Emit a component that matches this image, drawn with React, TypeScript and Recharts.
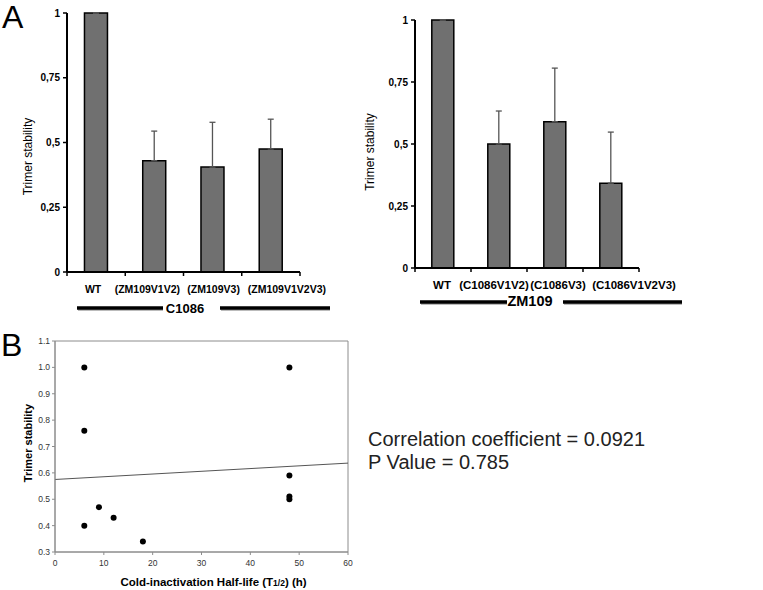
import React from 'react';
import {
  BarChart,
  Bar,
  XAxis,
  YAxis,
  ErrorBar,
  ScatterChart,
  Scatter,
  ReferenceArea,
  ReferenceLine,
} from 'recharts';

const FONT = '"Liberation Sans", Arial, Helvetica, sans-serif';

// Panel A, left: C1086 backbone carrying ZM109 loops
const c1086Names = ['WT', '(ZM109V1V2)', '(ZM109V3)', '(ZM109V1V2V3)'];
const c1086Values = [1, 0.43, 0.405, 0.475];
const c1086Errors = [0, 0.114, 0.173, 0.115];

// Panel A, right: ZM109 backbone carrying C1086 loops
const zm109Names = ['WT', '(C1086V1V2)', '(C1086V3)', '(C1086V1V2V3)'];
const zm109Values = [1, 0.5, 0.59, 0.342];
const zm109Errors = [0, 0.133, 0.216, 0.206];

const stabilityTicks = [0, 0.25, 0.5, 0.75, 1];

// Panel B: half-life vs trimer stability
const halfLife = [6, 6, 6, 9, 12, 18, 48, 48, 48, 48];
const trimerStability = [1.0, 0.76, 0.4, 0.47, 0.43, 0.34, 1.0, 0.59, 0.51, 0.5];
const trendX = [0, 60];
const trendY = [0.575, 0.637];
const halfLifeTicks = [0, 10, 20, 30, 40, 50, 60];
const stabilityTicksB = [0.3, 0.4, 0.5, 0.6, 0.7, 0.8, 0.9, 1.0, 1.1];

const toBars = (names: string[], values: number[], errors: number[]) =>
  names.map((name, i) => ({ name, value: values[i], err: [0, errors[i]] }));

const leftData = toBars(c1086Names, c1086Values, c1086Errors);
const rightData = toBars(zm109Names, zm109Values, zm109Errors);
const scatterData = halfLife.map((x, i) => ({ x, y: trimerStability[i] }));

const commaFormat = (v: number) => String(v).replace('.', ',');

// category label plus a tick mark at the band edge (Excel style)
const CategoryTick = (props: any) => {
  const { x, y, payload, index, band, fontSize, shifts } = props;
  const half = band / 2;
  const dx = shifts[index] ?? 0;
  return (
    <g>
      {index === 0 && (
        <line x1={x - half} x2={x - half} y1={y} y2={y + 4} stroke="#000" strokeWidth={1.5} />
      )}
      <line x1={x + half} x2={x + half} y1={y} y2={y + 4} stroke="#000" strokeWidth={1.5} />
      <text
        x={x + dx}
        y={y + 21}
        textAnchor="middle"
        fontFamily={FONT}
        fontWeight="bold"
        fontSize={fontSize}
        fill="#000"
      >
        {payload.value}
      </text>
    </g>
  );
};

const YTitle = (props: any) => {
  const { viewBox, dx, dy, text, fontSize, fontWeight } = props;
  if (!viewBox) return null;
  const cx = viewBox.x + dx;
  const cy = viewBox.y + viewBox.height / 2 + dy;
  return (
    <text
      x={cx}
      y={cy}
      transform={`rotate(-90 ${cx} ${cy})`}
      textAnchor="middle"
      dominantBaseline="central"
      fontFamily={FONT}
      fontSize={fontSize}
      fontWeight={fontWeight}
      fill="#000"
    >
      {text}
    </text>
  );
};

const HalfLifeTitle = (props: any) => {
  const { viewBox } = props;
  if (!viewBox) return null;
  return (
    <text
      x={viewBox.x + viewBox.width / 2 + 12}
      y={viewBox.y + 34}
      textAnchor="middle"
      fontFamily={FONT}
      fontSize={11.5}
      fontWeight="bold"
      fill="#000"
    >
      Cold-inactivation Half-life (T<tspan fontSize={8.5}>1/2</tspan>) (h)
    </text>
  );
};

const Dot = (props: any) => <circle cx={props.cx} cy={props.cy} r={3} fill="#000" />;

interface StabilityBarsProps {
  data: { name: string; value: number; err: number[] }[];
  width: number;
  margin: { top: number; right: number; bottom: number; left: number };
  band: number;
  labelSize: number;
  shifts: number[];
  titleDx: number;
  titleDy: number;
}

function StabilityBars({ data, width, margin, band, labelSize, shifts, titleDx, titleDy }: StabilityBarsProps) {
  return (
    <BarChart width={width} height={320} data={data} margin={margin} barCategoryGap="30%">
      <XAxis
        dataKey="name"
        interval={0}
        height={30}
        tickSize={0}
        tickMargin={0}
        tickLine={false}
        axisLine={{ stroke: '#000', strokeWidth: 2 }}
        tick={<CategoryTick band={band} fontSize={labelSize} shifts={shifts} />}
      />
      <YAxis
        width={40}
        domain={[0, 1]}
        ticks={stabilityTicks}
        tickFormatter={commaFormat}
        tickSize={4}
        tickMargin={3}
        axisLine={{ stroke: '#000', strokeWidth: 2 }}
        tickLine={{ stroke: '#000', strokeWidth: 1.5 }}
        tick={{ fontSize: 10, fontWeight: 'bold', fill: '#000', fontFamily: FONT }}
        label={{
          content: (p: any) => (
            <YTitle {...p} dx={titleDx} dy={titleDy} text="Trimer stability" fontSize={12} fontWeight="normal" />
          ),
        }}
      />
      <Bar dataKey="value" fill="#707070" stroke="#000" strokeWidth={1.5} isAnimationActive={false}>
        <ErrorBar dataKey="err" width={3} stroke="#555" strokeWidth={1.3} isAnimationActive={false} />
      </Bar>
    </BarChart>
  );
}

export default function App() {
  return (
    <div
      style={{
        position: 'absolute',
        left: 0,
        top: 0,
        width: 763,
        height: 590,
        background: '#fff',
        fontFamily: FONT,
        overflow: 'hidden',
      }}
    >
      <div style={{ position: 'absolute', left: 0, top: 0 }}>
        <StabilityBars
          data={leftData}
          width={340}
          margin={{ top: 13, right: 40, bottom: 18, left: 27 }}
          band={233 / 4}
          labelSize={10.5}
          shifts={[-3, -7, 1, 16]}
          titleDx={1}
          titleDy={14}
        />
      </div>
      <div style={{ position: 'absolute', left: 355, top: 0 }}>
        <StabilityBars
          data={rightData}
          width={345}
          margin={{ top: 20, right: 61, bottom: 22, left: 20 }}
          band={224 / 4}
          labelSize={11.5}
          shifts={[-1, -5, 3, 23]}
          titleDx={-5}
          titleDy={8}
        />
      </div>
      <div style={{ position: 'absolute', left: 0, top: 320 }}>
        <ScatterChart width={380} height={270} margin={{ top: 21, right: 32, bottom: 2, left: 10 }}>
          <XAxis
            type="number"
            dataKey="x"
            domain={[0, 60]}
            ticks={halfLifeTicks}
            height={36}
            tickSize={3}
            tickMargin={5}
            axisLine={{ stroke: '#8c8c8c' }}
            tickLine={{ stroke: '#8c8c8c' }}
            tick={{ fontSize: 8.5, fill: '#333', fontFamily: FONT }}
            label={{ content: (p: any) => <HalfLifeTitle {...p} /> }}
          />
          <YAxis
            type="number"
            dataKey="y"
            domain={[0.3, 1.1]}
            ticks={stabilityTicksB}
            width={45}
            tickSize={3}
            tickMargin={2}
            tickFormatter={(v: number) => v.toFixed(1)}
            axisLine={{ stroke: '#8c8c8c' }}
            tickLine={{ stroke: '#8c8c8c' }}
            tick={{ fontSize: 8.5, fill: '#333', fontFamily: FONT }}
            label={{
              content: (p: any) => (
                <YTitle {...p} dx={18} dy={-3.5} text="Trimer stability" fontSize={11} fontWeight="bold" />
              ),
            }}
          />
          <ReferenceArea x1={0} x2={60} y1={0.3} y2={1.1} fill="none" fillOpacity={0} stroke="#8c8c8c" />
          <ReferenceLine
            segment={[
              { x: trendX[0], y: trendY[0] },
              { x: trendX[1], y: trendY[1] },
            ]}
            stroke="#555"
            strokeWidth={1}
          />
          <Scatter data={scatterData} shape={Dot} isAnimationActive={false} />
        </ScatterChart>
      </div>
      <svg
        width={763}
        height={590}
        style={{ position: 'absolute', left: 0, top: 0, pointerEvents: 'none' }}
        fontFamily={FONT}
      >
        <text x={2} y={28} fontSize={32} fill="#000">A</text>
        <text x={1} y={356} fontSize={32} fill="#000">B</text>

        <line x1={78} x2={163} y1={310} y2={310} stroke="#bbb" strokeWidth={2} />
        <line x1={77} x2={163} y1={308} y2={308} stroke="#000" strokeWidth={3.5} />
        <text x={185} y={313} textAnchor="middle" fontSize={13} fontWeight="bold" fill="#000">C1086</text>
        <line x1={221} x2={330} y1={310} y2={310} stroke="#bbb" strokeWidth={2} />
        <line x1={220} x2={330} y1={308} y2={308} stroke="#000" strokeWidth={3.5} />

        <line x1={421} x2={507} y1={304} y2={304} stroke="#bbb" strokeWidth={2} />
        <line x1={420} x2={507} y1={302} y2={302} stroke="#000" strokeWidth={3.5} />
        <text x={530} y={306} textAnchor="middle" fontSize={14.5} fontWeight="bold" fill="#000">ZM109</text>
        <line x1={564} x2={682} y1={304} y2={304} stroke="#bbb" strokeWidth={2} />
        <line x1={563} x2={682} y1={302} y2={302} stroke="#000" strokeWidth={3.5} />

        <text x={368} y={446} fontSize={20} fill="#222">Correlation coefficient = 0.0921</text>
        <text x={368} y={469} fontSize={20} fill="#222">P Value = 0.785</text>
      </svg>
    </div>
  );
}
